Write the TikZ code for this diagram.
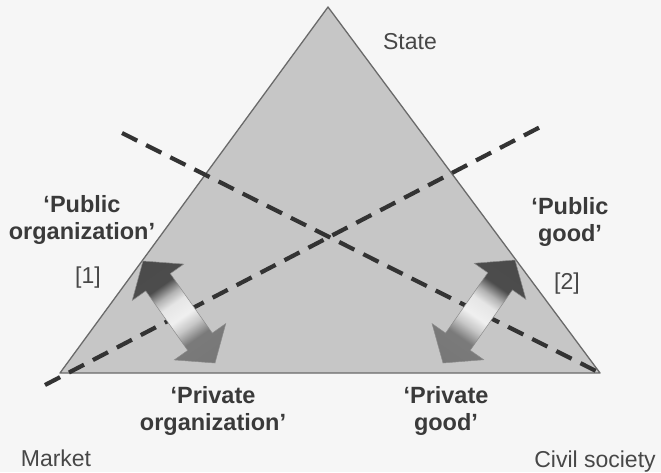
\documentclass[tikz,border=0pt]{standalone}
\usepackage{fontspec}
\setmainfont{Liberation Sans}
\usetikzlibrary{calc}
\definecolor{bgc}{HTML}{F6F6F6}
\definecolor{trifill}{HTML}{C6C6C6}
\definecolor{triline}{HTML}{6A6A6A}
\definecolor{dashc}{HTML}{333333}
\definecolor{txtc}{HTML}{474747}
\definecolor{boldc}{HTML}{3A3A3A}
\pgfdeclareverticalshading{arrowshade}{100bp}{%
  color(0bp)=(black!55); color(34bp)=(black!52); color(41bp)=(black!22);
  color(47bp)=(black!6); color(55bp)=(black!10); color(60bp)=(black!30);
  color(66bp)=(black!70); color(100bp)=(black!72)}
\tikzset{
  plainlabel/.style={font=\fontsize{23}{27}\selectfont, text=txtc, inner sep=0pt, anchor=base},
  boldlabel/.style={font=\fontsize{23.5}{27.5}\selectfont\bfseries, text=boldc, inner sep=0pt, align=center},
  dashline/.style={draw=dashc, line width=4.2pt, dash pattern=on 17pt off 10pt},
  triangle/.style={fill=trifill, draw=triline, line width=1.3pt, line join=round},
  dblarrowshape/.style={draw=black!45, line width=0.5pt, line join=miter, shading=arrowshade},
}
\newcommand{\mydblarrow}[3]{%
  \path[dblarrowshape, #3]
    (#1)
    -- ($($(#1)!26pt!(#2)$)!31.5pt!90:(#2)$)
    -- ($($(#1)!26pt!(#2)$)!15pt!90:(#2)$)
    -- ($($(#2)!26pt!(#1)$)!15pt!-90:(#1)$)
    -- ($($(#2)!26pt!(#1)$)!31.5pt!-90:(#1)$)
    -- (#2)
    -- ($($(#2)!26pt!(#1)$)!31.5pt!90:(#1)$)
    -- ($($(#2)!26pt!(#1)$)!15pt!90:(#1)$)
    -- ($($(#1)!26pt!(#2)$)!15pt!-90:(#2)$)
    -- ($($(#1)!26pt!(#2)$)!31.5pt!-90:(#2)$)
    -- cycle;}
\begin{document}
\begin{tikzpicture}[x=1pt,y=-1pt]
\useasboundingbox (0,0) rectangle (661,472);
\fill[bgc] (0,0) rectangle (661,472);
% triangle corners
\coordinate (apex) at (328,7);
\coordinate (bl) at (60,373);
\coordinate (br) at (600,373);
\draw[triangle] (apex) -- (bl) -- (br) -- cycle;
% dashed lines
\coordinate (d1s) at (122,133);
\coordinate (d2s) at (45,385);
\coordinate (d2e) at (546,124);
\draw[dashline] (d1s) -- (br);
\draw[dashline] (d2s) -- (d2e);
% double arrows
\coordinate (la1) at (143,261);
\coordinate (la2) at (215,363);
\coordinate (ra1) at (515,260);
\coordinate (ra2) at (443,363);
\mydblarrow{la1}{la2}{shading angle=35}
\mydblarrow{ra1}{ra2}{shading angle=-35}
% labels
\node[plainlabel] (state) at (410,49) {State};
\node[plainlabel] (market) at (56,466) {Market};
\node[plainlabel] (civil) at (595,467) {Civil society};
\node[plainlabel] (n1) at (88,283) {[1]};
\node[plainlabel] (n2) at (567,289) {[2]};
\node[boldlabel] (puborg) at (82,220) {‘Public\\organization’};
\node[boldlabel] (pubgood) at (570,222) {‘Public\\good’};
\node[boldlabel] (privorg) at (213,411) {‘Private\\organization’};
\node[boldlabel] (privgood) at (446,411) {‘Private\\good’};
\end{tikzpicture}
\end{document}
